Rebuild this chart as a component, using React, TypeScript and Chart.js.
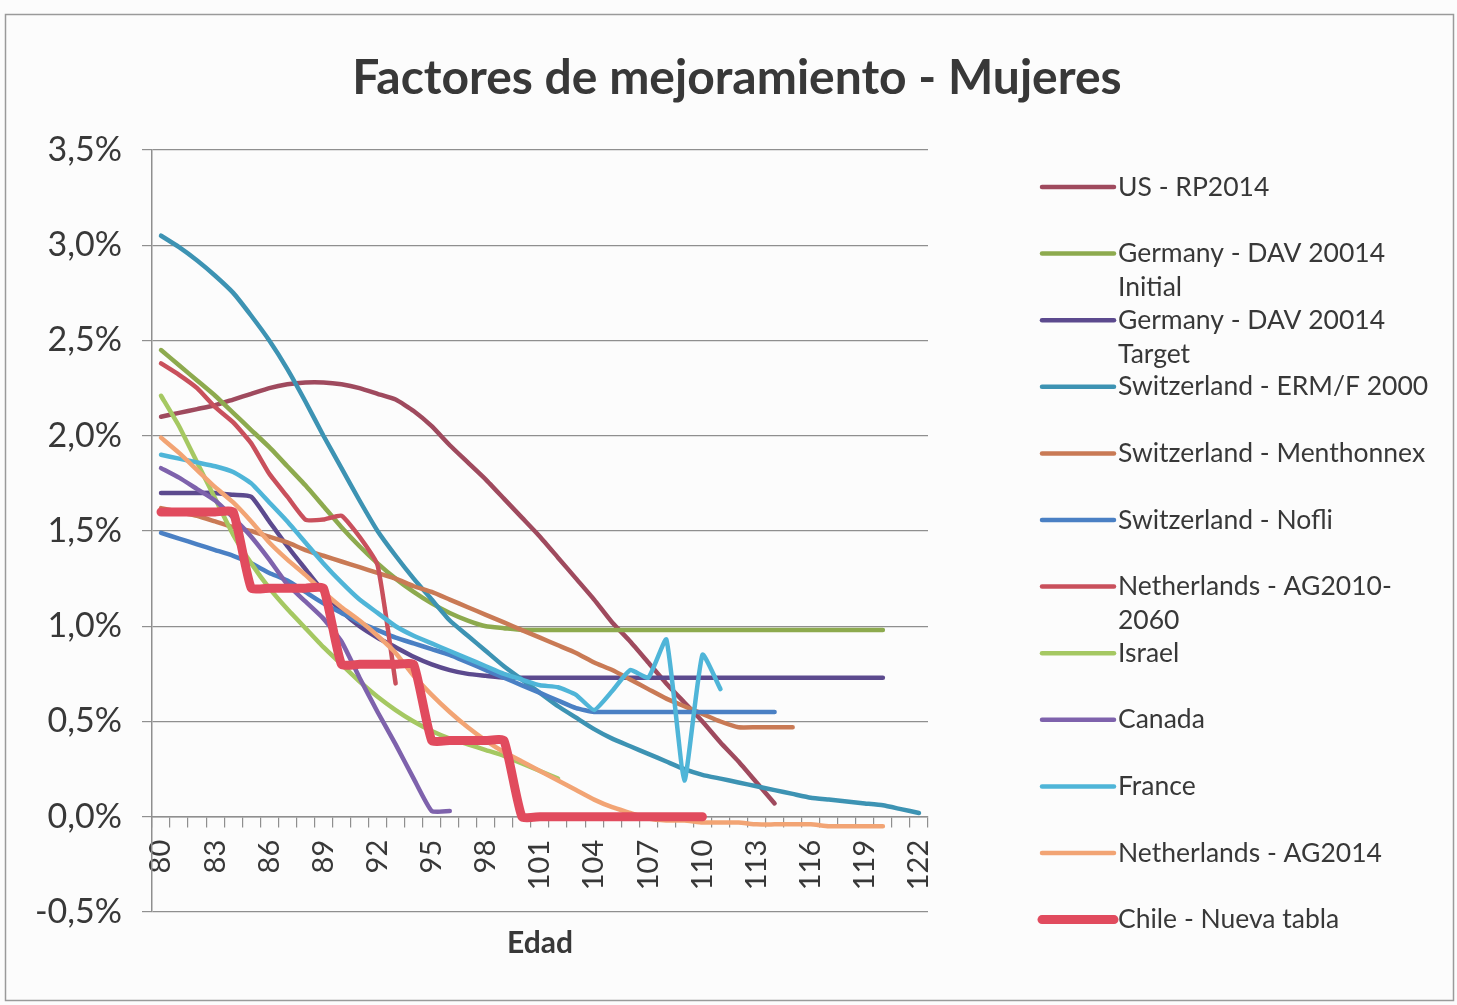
import React, { useEffect, useRef } from 'react';
import { Chart, registerables } from 'chart.js';

Chart.register(...registerables);

const ages = ['80','81','82','83','84','85','86','87','88','89','90','91','92','93','94','95','96','97','98','99','100','101','102','103','104','105','106','107','108','109','110','111','112','113','114','115','116','117','118','119','120','121','122'];
const shownAgeLabels = ['80','83','86','89','92','95','98','101','104','107','110','113','116','119','122'];

const usRP2014 = [2.10, 2.12, 2.14, 2.16, 2.19, 2.22, 2.25, 2.27, 2.28, 2.28, 2.27, 2.25, 2.22, 2.19, 2.13, 2.05, 1.95, 1.86, 1.77, 1.67, 1.57, 1.47, 1.36, 1.25, 1.14, 1.02, 0.92, 0.81, 0.70, 0.60, 0.50, 0.39, 0.29, 0.18, 0.07];
const germanyInitial = [2.45, 2.37, 2.29, 2.21, 2.12, 2.03, 1.94, 1.84, 1.74, 1.63, 1.52, 1.42, 1.33, 1.25, 1.18, 1.12, 1.07, 1.03, 1.00, 0.99, 0.98, 0.98, 0.98, 0.98, 0.98, 0.98, 0.98, 0.98, 0.98, 0.98, 0.98, 0.98, 0.98, 0.98, 0.98, 0.98, 0.98, 0.98, 0.98, 0.98, 0.98];
const germanyTarget = [1.70, 1.70, 1.70, 1.70, 1.69, 1.68, 1.55, 1.42, 1.30, 1.18, 1.08, 1.00, 0.94, 0.89, 0.84, 0.80, 0.77, 0.75, 0.74, 0.73, 0.73, 0.73, 0.73, 0.73, 0.73, 0.73, 0.73, 0.73, 0.73, 0.73, 0.73, 0.73, 0.73, 0.73, 0.73, 0.73, 0.73, 0.73, 0.73, 0.73, 0.73];
const switzerlandERM = [3.05, 2.99, 2.92, 2.84, 2.75, 2.63, 2.50, 2.35, 2.18, 2.00, 1.83, 1.66, 1.50, 1.37, 1.25, 1.14, 1.03, 0.95, 0.87, 0.79, 0.72, 0.65, 0.58, 0.52, 0.46, 0.41, 0.37, 0.33, 0.29, 0.25, 0.22, 0.20, 0.18, 0.16, 0.14, 0.12, 0.10, 0.09, 0.08, 0.07, 0.06, 0.04, 0.02];
const switzerlandMenthonnex = [1.62, 1.60, 1.58, 1.55, 1.52, 1.50, 1.47, 1.44, 1.40, 1.37, 1.34, 1.31, 1.28, 1.25, 1.21, 1.18, 1.14, 1.10, 1.06, 1.02, 0.98, 0.94, 0.90, 0.86, 0.81, 0.77, 0.72, 0.67, 0.62, 0.58, 0.54, 0.50, 0.47, 0.47, 0.47, 0.47];
const switzerlandNofli = [1.49, 1.46, 1.43, 1.40, 1.37, 1.33, 1.28, 1.24, 1.18, 1.12, 1.07, 1.02, 0.98, 0.94, 0.91, 0.88, 0.85, 0.81, 0.77, 0.73, 0.69, 0.65, 0.61, 0.57, 0.55, 0.55, 0.55, 0.55, 0.55, 0.55, 0.55, 0.55, 0.55, 0.55, 0.55];
const netherlandsAG2010 = [2.38, 2.32, 2.25, 2.15, 2.07, 1.96, 1.80, 1.68, 1.56, 1.56, 1.58, 1.47, 1.32, 0.70];
const israel = [2.21, 2.05, 1.86, 1.67, 1.48, 1.33, 1.20, 1.09, 0.99, 0.89, 0.80, 0.71, 0.63, 0.56, 0.50, 0.45, 0.41, 0.38, 0.35, 0.32, 0.28, 0.24, 0.20];
const canada = [1.83, 1.78, 1.72, 1.66, 1.57, 1.47, 1.35, 1.22, 1.13, 1.04, 0.92, 0.73, 0.55, 0.38, 0.20, 0.03, 0.03];
const france = [1.90, 1.88, 1.86, 1.84, 1.81, 1.75, 1.65, 1.55, 1.44, 1.33, 1.23, 1.14, 1.07, 1.00, 0.95, 0.91, 0.87, 0.83, 0.79, 0.75, 0.72, 0.69, 0.68, 0.64, 0.56, 0.66, 0.77, 0.73, 0.93, 0.19, 0.85, 0.67];
const netherlandsAG2014 = [1.99, 1.91, 1.82, 1.73, 1.65, 1.55, 1.44, 1.35, 1.27, 1.18, 1.10, 1.03, 0.95, 0.86, 0.74, 0.64, 0.55, 0.47, 0.40, 0.34, 0.29, 0.24, 0.19, 0.14, 0.09, 0.05, 0.02, -0.01, -0.02, -0.02, -0.03, -0.03, -0.03, -0.04, -0.04, -0.04, -0.04, -0.05, -0.05, -0.05, -0.05];
const chileNuevaTabla = [1.6, 1.6, 1.6, 1.6, 1.6, 1.2, 1.2, 1.2, 1.2, 1.2, 0.8, 0.8, 0.8, 0.8, 0.8, 0.4, 0.4, 0.4, 0.4, 0.4, 0, 0, 0, 0, 0, 0, 0, 0, 0, 0, 0];

const seriesNames = [
  'US - RP2014',
  'Germany - DAV 20014 Initial',
  'Germany - DAV 20014 Target',
  'Switzerland - ERM/F 2000',
  'Switzerland - Menthonnex',
  'Switzerland - Nofli',
  'Netherlands - AG2010-2060',
  'Israel',
  'Canada',
  'France',
  'Netherlands - AG2014',
  'Chile - Nueva tabla',
];
const seriesValues = [usRP2014, germanyInitial, germanyTarget, switzerlandERM, switzerlandMenthonnex, switzerlandNofli, netherlandsAG2010, israel, canada, france, netherlandsAG2014, chileNuevaTabla];
const seriesColors = ['#9F4A5E', '#8DAA4E', '#5C4A8E', '#3D93B3', '#C97A55', '#4A80C4', '#C9505C', '#A5C862', '#7E62AC', '#4FB5D8', '#F2A474', '#E14B5E'];
const seriesWidths = [4.5, 4.5, 4.5, 4.5, 4.5, 4.5, 4.5, 4.5, 4.5, 4.5, 4.5, 9];

const yMin = -0.5;
const yMax = 3.5;
const yStep = 0.5;

const titleText = 'Factores de mejoramiento - Mujeres';
const xTitleText = 'Edad';

const TEXT = '#383838';
const GRID = '#8f8f8f';

function wrapLabel(ctx: CanvasRenderingContext2D, label: string, maxW: number): string[] {
  const tokens: { t: string; sp: boolean }[] = [];
  label.split(' ').forEach((w, wi) => {
    const parts = w.split(/(?<=-)(?=.)/);
    parts.forEach((p, pi) => tokens.push({ t: p, sp: wi > 0 && pi === 0 }));
  });
  const lines: string[] = [];
  let cur = '';
  tokens.forEach((tk) => {
    const cand = cur === '' ? tk.t : cur + (tk.sp ? ' ' : '') + tk.t;
    if (cur !== '' && ctx.measureText(cand).width > maxW) {
      lines.push(cur);
      cur = tk.t;
    } else {
      cur = cand;
    }
  });
  if (cur) lines.push(cur);
  return lines;
}

const decorPlugin = {
  id: 'decor',
  beforeDraw(chart: any) {
    const { ctx, width, height } = chart;
    ctx.save();
    ctx.fillStyle = '#fcfcfc';
    ctx.fillRect(0, 0, width, height);
    ctx.strokeStyle = '#9a9a9a';
    ctx.lineWidth = 1.5;
    ctx.strokeRect(5.5, 14.5, width - 9, height - 19);
    ctx.restore();
  },
  afterDraw(chart: any) {
    const { ctx } = chart;
    ctx.save();
    // title
    ctx.fillStyle = TEXT;
    ctx.font = 'bold 48px Lato';
    ctx.textAlign = 'center';
    ctx.textBaseline = 'middle';
    ctx.fillText(titleText, 737, 79);
    // legend
    const startY = 187;
    const step = 66.6;
    const lineH = 34;
    ctx.font = '26.5px Lato';
    ctx.textAlign = 'left';
    chart.data.datasets.forEach((ds: any, i: number) => {
      const y = startY + i * step;
      ctx.strokeStyle = ds.borderColor;
      ctx.lineWidth = ds.borderWidth;
      ctx.lineCap = 'round';
      ctx.beginPath();
      ctx.moveTo(1042, y);
      ctx.lineTo(1114, y);
      ctx.stroke();
      const lines = wrapLabel(ctx, ds.label, 325);
      ctx.fillStyle = TEXT;
      lines.forEach((t, j) => ctx.fillText(t, 1118, y + j * lineH));
    });
    ctx.restore();
  },
};

export default function App() {
  const ref = useRef<HTMLCanvasElement | null>(null);
  useEffect(() => {
    if (!ref.current) return;
    const datasets = seriesNames.map((name, i) => ({
      label: name,
      data: seriesValues[i],
      borderColor: seriesColors[i],
      backgroundColor: seriesColors[i],
      borderWidth: seriesWidths[i],
      pointRadius: 0,
      pointHoverRadius: 0,
      tension: 0.15,
      borderCapStyle: 'round' as const,
      borderJoinStyle: 'round' as const,
      fill: false,
      order: -i,
    }));
    const chart = new Chart(ref.current, {
      type: 'line',
      data: { labels: ages, datasets },
      plugins: [decorPlugin],
      options: {
        responsive: false,
        animation: false,
        devicePixelRatio: 1,
        layout: { padding: { left: 0, top: 150, right: 529, bottom: 93 } },
        plugins: { legend: { display: false }, title: { display: false }, tooltip: { enabled: false } },
        scales: {
          x: {
            type: 'category',
            position: { y: 0 } as any,
            offset: true,
            grid: { display: true, drawOnChartArea: false, drawTicks: true, tickLength: 10, offset: true, color: GRID, lineWidth: 1.2 },
            border: { display: true, color: GRID, width: 1.5 },
            ticks: {
              autoSkip: false,
              minRotation: 90,
              maxRotation: 90,
              padding: 13,
              color: TEXT,
              font: { family: 'Lato', size: 29 },
              callback: function (this: any, value: any) {
                const lab = this.getLabelForValue(value);
                return shownAgeLabels.includes(lab) ? lab : '';
              },
            },
            title: { display: true, text: xTitleText, color: TEXT, font: { family: 'Lato', size: 30, weight: 'bold' }, padding: { top: 22, bottom: 0 } },
          },
          y: {
            min: yMin,
            max: yMax,
            afterFit: (scale: any) => { scale.width = 152; },
            grid: { color: GRID, lineWidth: 1.2, drawTicks: true, tickLength: 10 },
            border: { display: true, color: GRID, width: 1.5 },
            ticks: {
              stepSize: yStep,
              padding: 20,
              color: TEXT,
              font: { family: 'Lato', size: 34 },
              callback: (v: any) => Number(v).toFixed(1).replace('.', ',') + '%',
            },
          },
        },
      },
    });
    return () => chart.destroy();
  }, []);
  return (
    <div style={{ position: 'absolute', left: 0, top: 0, width: 1457, height: 1005 }}>
      <canvas ref={ref} width={1457} height={1005} style={{ display: 'block', width: 1457, height: 1005 }} />
    </div>
  );
}
